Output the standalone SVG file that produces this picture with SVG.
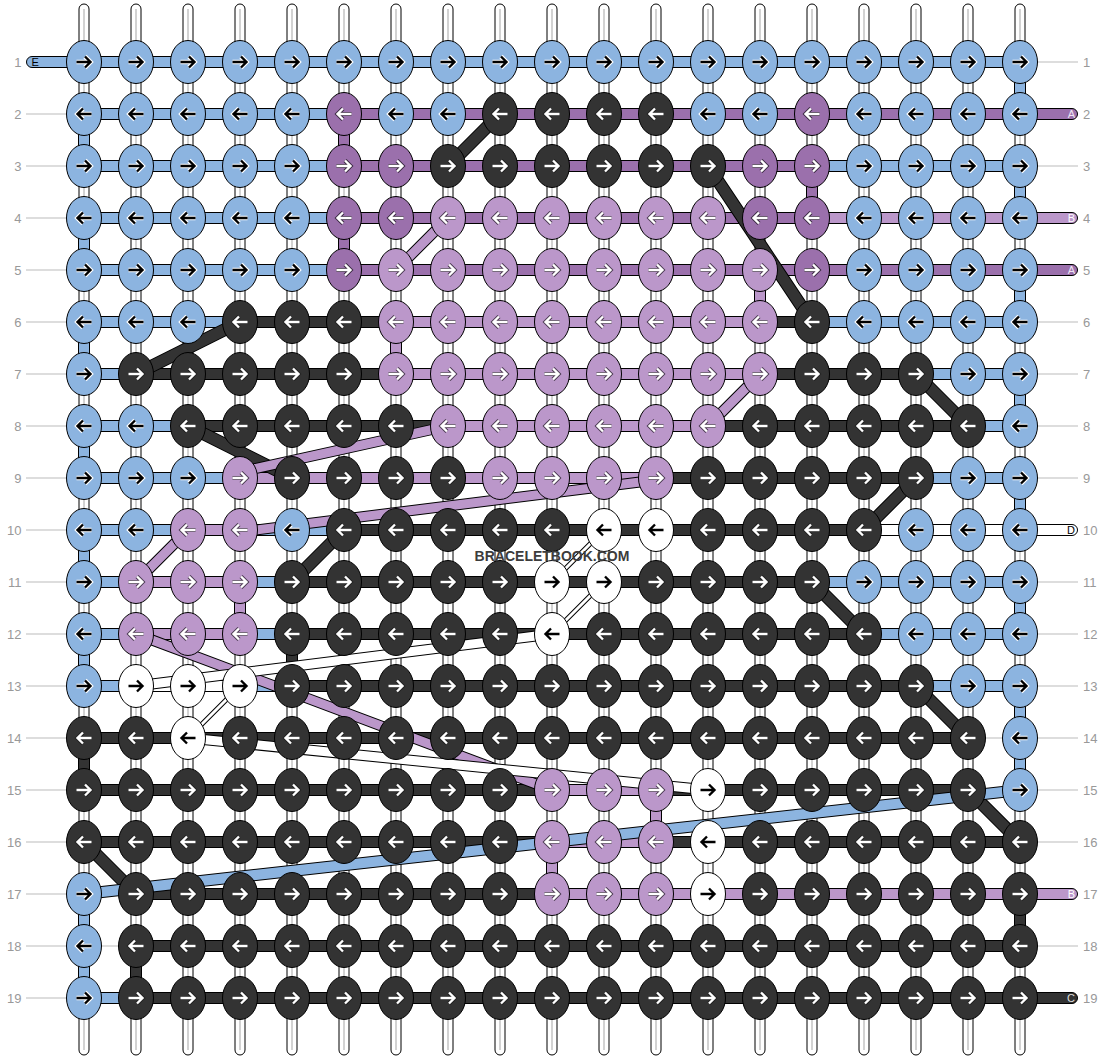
<svg xmlns="http://www.w3.org/2000/svg" xmlns:xlink="http://www.w3.org/1999/xlink" width="1104" height="1060" viewBox="0 0 1104 1060">
<style>
.t{font-family:"Liberation Sans",Arial,sans-serif;font-size:13px;fill:#999}
.lt{font-family:"Liberation Sans",Arial,sans-serif;font-size:11px}
.ln{stroke:#bbb;stroke-width:1}
.s{stroke:#000;stroke-width:1}
.B{fill:#8CB4E0}.A{fill:#9B70AC}.L{fill:#BB97CA}.K{fill:#333}.W{fill:#fff}
.ws{fill:#fff;stroke:#000;stroke-width:1}
.wc{stroke:#c4c4c4;stroke-width:1.5}
.ok{stroke:#000;stroke-width:13}.ik{stroke:#333;stroke-width:11}
.oL{stroke:#000;stroke-width:11}.iL{stroke:#BB97CA;stroke-width:9}
.oB{stroke:#000;stroke-width:12}.iB{stroke:#8CB4E0;stroke-width:10}
.oW{stroke:#000;stroke-width:11}.iW{stroke:#fff;stroke-width:9}
.ow{stroke:#000;stroke-width:5}.iw{stroke:#fff;stroke-width:3}
</style>
<defs>
<path id="pr" d="M-7.5,0H5.5M1,-5.5L6.5,0L1,5.5" fill="none"/>
<path id="pl" d="M7.5,0H-5.5M-1,-5.5L-6.5,0L-1,5.5" fill="none"/>
<g id="Br"><ellipse rx="17.5" ry="21.5" class="B s"/><use href="#pr" stroke="#fff" stroke-width="4.6"/><use href="#pr" stroke="#000" stroke-width="2.4"/></g>
<g id="Bl"><ellipse rx="17.5" ry="21.5" class="B s"/><use href="#pl" stroke="#fff" stroke-width="4.6"/><use href="#pl" stroke="#000" stroke-width="2.4"/></g>
<g id="Wr"><ellipse rx="17.5" ry="21.5" class="W s"/><use href="#pr" stroke="#fff" stroke-width="4.6"/><use href="#pr" stroke="#000" stroke-width="2.4"/></g>
<g id="Wl"><ellipse rx="17.5" ry="21.5" class="W s"/><use href="#pl" stroke="#fff" stroke-width="4.6"/><use href="#pl" stroke="#000" stroke-width="2.4"/></g>
<g id="Kr"><ellipse rx="17.5" ry="21.5" class="K s"/><use href="#pr" stroke="#222" stroke-width="4.2"/><use href="#pr" stroke="#fff" stroke-width="2.4"/></g>
<g id="Kl"><ellipse rx="17.5" ry="21.5" class="K s"/><use href="#pl" stroke="#222" stroke-width="4.2"/><use href="#pl" stroke="#fff" stroke-width="2.4"/></g>
<g id="Ar"><ellipse rx="17.5" ry="21.5" class="A s"/><use href="#pr" stroke="#3a2a40" stroke-width="4.2"/><use href="#pr" stroke="#fff" stroke-width="2.4"/></g>
<g id="Al"><ellipse rx="17.5" ry="21.5" class="A s"/><use href="#pl" stroke="#3a2a40" stroke-width="4.2"/><use href="#pl" stroke="#fff" stroke-width="2.4"/></g>
<g id="Lr"><ellipse rx="17.5" ry="21.5" class="L s"/><use href="#pr" stroke="#4a3a50" stroke-width="4.2"/><use href="#pr" stroke="#fff" stroke-width="2.4"/></g>
<g id="Ll"><ellipse rx="17.5" ry="21.5" class="L s"/><use href="#pl" stroke="#4a3a50" stroke-width="4.2"/><use href="#pl" stroke="#fff" stroke-width="2.4"/></g>
</defs>
<rect width="1104" height="1060" fill="#fff"/>
<g id="connectors">
<g id="base-strings">
<rect class="ws" x="79" y="4" width="10" height="1051" rx="5"/><rect class="ws" x="131" y="4" width="10" height="1051" rx="5"/><rect class="ws" x="183" y="4" width="10" height="1051" rx="5"/><rect class="ws" x="235" y="4" width="10" height="1051" rx="5"/><rect class="ws" x="287" y="4" width="10" height="1051" rx="5"/><rect class="ws" x="339" y="4" width="10" height="1051" rx="5"/><rect class="ws" x="391" y="4" width="10" height="1051" rx="5"/><rect class="ws" x="443" y="4" width="10" height="1051" rx="5"/><rect class="ws" x="495" y="4" width="10" height="1051" rx="5"/><rect class="ws" x="547" y="4" width="10" height="1051" rx="5"/><rect class="ws" x="599" y="4" width="10" height="1051" rx="5"/><rect class="ws" x="651" y="4" width="10" height="1051" rx="5"/><rect class="ws" x="703" y="4" width="10" height="1051" rx="5"/><rect class="ws" x="755" y="4" width="10" height="1051" rx="5"/><rect class="ws" x="807" y="4" width="10" height="1051" rx="5"/><rect class="ws" x="859" y="4" width="10" height="1051" rx="5"/><rect class="ws" x="911" y="4" width="10" height="1051" rx="5"/><rect class="ws" x="963" y="4" width="10" height="1051" rx="5"/><rect class="ws" x="1015" y="4" width="10" height="1051" rx="5"/>
<path class="wc" d="M84,9V1050M136,9V1050M188,9V1050M240,9V1050M292,9V1050M344,9V1050M396,9V1050M448,9V1050M500,9V1050M552,9V1050M604,9V1050M656,9V1050M708,9V1050M760,9V1050M812,9V1050M864,9V1050M916,9V1050M968,9V1050M1020,9V1050"/>
</g>
<g id="label-lines" class="ln">
<path d="M26,114H70M26,166H70M26,218H70M26,270H70M26,322H70M26,374H70M26,426H70M26,478H70M26,530H70M26,582H70M26,634H70M26,686H70M26,738H70M26,790H70M26,842H70M26,894H70M26,946H70M26,998H70"/>
<path d="M1030,62H1078M1030,166H1078M1030,322H1078M1030,374H1078M1030,426H1078M1030,478H1078M1030,582H1078M1030,634H1078M1030,686H1078M1030,738H1078M1030,790H1078M1030,842H1078M1030,946H1078"/>
<path d="M968,738H1020M84,946H136"/>
</g>
<g id="verticals" class="s">
<rect class="B" x="78.5" y="114" width="11" height="52"/><rect class="B" x="78.5" y="218" width="11" height="52"/><rect class="B" x="78.5" y="322" width="11" height="52"/><rect class="B" x="78.5" y="426" width="11" height="52"/><rect class="B" x="78.5" y="530" width="11" height="52"/><rect class="B" x="78.5" y="634" width="11" height="52"/><rect class="B" x="78.5" y="894" width="11" height="52"/><rect class="B" x="78.5" y="946" width="11" height="52"/>
<rect class="B" x="1014.5" y="62" width="11" height="52"/><rect class="B" x="1014.5" y="166" width="11" height="52"/><rect class="B" x="1014.5" y="270" width="11" height="52"/><rect class="B" x="1014.5" y="374" width="11" height="52"/><rect class="B" x="1014.5" y="478" width="11" height="52"/><rect class="B" x="1014.5" y="582" width="11" height="52"/><rect class="B" x="1014.5" y="686" width="11" height="52"/><rect class="B" x="1014.5" y="738" width="11" height="52"/>
<rect class="K" x="78.5" y="738" width="11" height="52"/><rect class="K" x="1014.5" y="894" width="11" height="52"/><rect class="K" x="286.5" y="634" width="11" height="52"/><rect class="K" x="130.5" y="946" width="11" height="52"/>
<rect class="A" x="338.5" y="114" width="11" height="52"/><rect class="A" x="338.5" y="218" width="11" height="52"/><rect class="A" x="806.5" y="166" width="11" height="52"/>
<rect class="L" x="754.5" y="270" width="11" height="52"/><rect class="L" x="390.5" y="322" width="11" height="52"/><rect class="L" x="234.5" y="582" width="11" height="52"/><rect class="L" x="650.5" y="790" width="11" height="52"/><rect class="L" x="546.5" y="842" width="11" height="52"/>
</g>
<g id="rows" class="s">
<rect class="B" x="26.5" y="56.5" width="993.5" height="11" rx="5.5"/>
<rect class="B" x="84" y="108.5" width="260" height="11"/><rect class="A" x="344" y="108.5" width="733.5" height="11" rx="5.5"/>
<rect class="B" x="84" y="160.5" width="260" height="11"/><rect class="A" x="344" y="160.5" width="468" height="11"/><rect class="B" x="812" y="160.5" width="208" height="11"/>
<rect class="B" x="84" y="212.5" width="260" height="11"/><rect class="A" x="344" y="212.5" width="468" height="11"/><rect class="L" x="812" y="212.5" width="265.5" height="11" rx="5.5"/>
<rect class="B" x="84" y="264.5" width="260" height="11"/><rect class="A" x="344" y="264.5" width="733.5" height="11" rx="5.5"/>
<rect class="B" x="84" y="316.5" width="156" height="11"/><rect class="K" x="240" y="316.5" width="156" height="11"/><rect class="L" x="396" y="316.5" width="364" height="11"/><rect class="K" x="760" y="316.5" width="52" height="11"/><rect class="B" x="812" y="316.5" width="208" height="11"/>
<rect class="B" x="84" y="368.5" width="52" height="11"/><rect class="K" x="136" y="368.5" width="260" height="11"/><rect class="L" x="396" y="368.5" width="364" height="11"/><rect class="K" x="760" y="368.5" width="156" height="11"/><rect class="B" x="916" y="368.5" width="104" height="11"/>
<rect class="B" x="84" y="420.5" width="104" height="11"/><rect class="K" x="188" y="420.5" width="260" height="11"/><rect class="L" x="448" y="420.5" width="260" height="11"/><rect class="K" x="708" y="420.5" width="260" height="11"/><rect class="B" x="968" y="420.5" width="52" height="11"/>
<rect class="B" x="84" y="472.5" width="156" height="11"/><rect class="L" x="240" y="472.5" width="416" height="11"/><rect class="K" x="656" y="472.5" width="260" height="11"/><rect class="B" x="916" y="472.5" width="104" height="11"/>
<rect class="B" x="84" y="524.5" width="104" height="11"/><rect class="L" x="188" y="524.5" width="52" height="11"/><rect class="B" x="240" y="524.5" width="104" height="11"/><rect class="K" x="344" y="524.5" width="520" height="11"/><rect class="W" x="864" y="524.5" width="213.5" height="11" rx="5.5"/>
<rect class="B" x="84" y="576.5" width="52" height="11"/><rect class="L" x="136" y="576.5" width="104" height="11"/><rect class="B" x="240" y="576.5" width="52" height="11"/><rect class="K" x="292" y="576.5" width="520" height="11"/><rect class="B" x="812" y="576.5" width="208" height="11"/>
<rect class="B" x="84" y="628.5" width="52" height="11"/><rect class="L" x="136" y="628.5" width="104" height="11"/><rect class="B" x="240" y="628.5" width="52" height="11"/><rect class="K" x="292" y="628.5" width="572" height="11"/><rect class="B" x="864" y="628.5" width="156" height="11"/>
<rect class="B" x="84" y="680.5" width="52" height="11"/><rect class="W" x="136" y="680.5" width="104" height="11"/><rect class="B" x="240" y="680.5" width="52" height="11"/><rect class="K" x="292" y="680.5" width="624" height="11"/><rect class="B" x="916" y="680.5" width="104" height="11"/>
<rect class="K" x="84" y="732.5" width="884" height="11"/>
<rect class="K" x="84" y="784.5" width="468" height="11"/><rect class="L" x="552" y="784.5" width="104" height="11"/><rect class="K" x="656" y="784.5" width="312" height="11"/>
<rect class="K" x="84" y="836.5" width="468" height="11"/><rect class="L" x="552" y="836.5" width="104" height="11"/><rect class="K" x="656" y="836.5" width="364" height="11"/>
<rect class="K" x="136" y="888.5" width="416" height="11"/><rect class="L" x="552" y="888.5" width="525.5" height="11" rx="5.5"/>
<rect class="K" x="136" y="940.5" width="884" height="11"/>
<rect class="B" x="84" y="992.5" width="52" height="11"/><rect class="K" x="136" y="992.5" width="941.5" height="11" rx="5.5"/>
</g>
<g id="diagonals">
<path class="ok" d="M448,166L500,114M708,166L812,322M136,374L240,322M916,374L968,426M188,426L292,478M292,582L344,530M864,530L916,478M812,582L864,634M916,686L968,738M968,790L1020,842M84,842L136,894"/>
<path class="ik" d="M448,166L500,114M708,166L812,322M136,374L240,322M916,374L968,426M188,426L292,478M292,582L344,530M864,530L916,478M812,582L864,634M916,686L968,738M968,790L1020,842M84,842L136,894"/>
<path class="oL" d="M396,270L448,218M760,374L708,426M240,472L448,426M240,532L656,480M136,582L188,530M136,634L552,790"/>
<path class="iL" d="M396,270L448,218M760,374L708,426M240,472L448,426M240,532L656,480M136,582L188,530M136,634L552,790"/>
<path class="oB" d="M84,894L1020,790"/>
<path class="iB" d="M84,894L1020,790"/>
<path class="oW" d="M188,738L708,790M136,686L552,634"/>
<path class="iW" d="M188,738L708,790M136,686L552,634"/>
<path class="ow" d="M188,738L240,686M552,582L604,530M552,634L604,582"/>
<path class="iw" d="M188,738L240,686M552,582L604,530M552,634L604,582"/>
</g>
</g>
<g id="knots">
<g id="n1-1" transform="translate(84 62)"><use href="#Br"/></g><g id="n1-2" transform="translate(136 62)"><use href="#Br"/></g><g id="n1-3" transform="translate(188 62)"><use href="#Br"/></g><g id="n1-4" transform="translate(240 62)"><use href="#Br"/></g><g id="n1-5" transform="translate(292 62)"><use href="#Br"/></g><g id="n1-6" transform="translate(344 62)"><use href="#Br"/></g><g id="n1-7" transform="translate(396 62)"><use href="#Br"/></g><g id="n1-8" transform="translate(448 62)"><use href="#Br"/></g><g id="n1-9" transform="translate(500 62)"><use href="#Br"/></g><g id="n1-10" transform="translate(552 62)"><use href="#Br"/></g><g id="n1-11" transform="translate(604 62)"><use href="#Br"/></g><g id="n1-12" transform="translate(656 62)"><use href="#Br"/></g><g id="n1-13" transform="translate(708 62)"><use href="#Br"/></g><g id="n1-14" transform="translate(760 62)"><use href="#Br"/></g><g id="n1-15" transform="translate(812 62)"><use href="#Br"/></g><g id="n1-16" transform="translate(864 62)"><use href="#Br"/></g><g id="n1-17" transform="translate(916 62)"><use href="#Br"/></g><g id="n1-18" transform="translate(968 62)"><use href="#Br"/></g><g id="n1-19" transform="translate(1020 62)"><use href="#Br"/></g>
<g id="n2-1" transform="translate(84 114)"><use href="#Bl"/></g><g id="n2-2" transform="translate(136 114)"><use href="#Bl"/></g><g id="n2-3" transform="translate(188 114)"><use href="#Bl"/></g><g id="n2-4" transform="translate(240 114)"><use href="#Bl"/></g><g id="n2-5" transform="translate(292 114)"><use href="#Bl"/></g><g id="n2-6" transform="translate(344 114)"><use href="#Al"/></g><g id="n2-7" transform="translate(396 114)"><use href="#Bl"/></g><g id="n2-8" transform="translate(448 114)"><use href="#Bl"/></g><g id="n2-9" transform="translate(500 114)"><use href="#Kl"/></g><g id="n2-10" transform="translate(552 114)"><use href="#Kl"/></g><g id="n2-11" transform="translate(604 114)"><use href="#Kl"/></g><g id="n2-12" transform="translate(656 114)"><use href="#Kl"/></g><g id="n2-13" transform="translate(708 114)"><use href="#Bl"/></g><g id="n2-14" transform="translate(760 114)"><use href="#Bl"/></g><g id="n2-15" transform="translate(812 114)"><use href="#Al"/></g><g id="n2-16" transform="translate(864 114)"><use href="#Bl"/></g><g id="n2-17" transform="translate(916 114)"><use href="#Bl"/></g><g id="n2-18" transform="translate(968 114)"><use href="#Bl"/></g><g id="n2-19" transform="translate(1020 114)"><use href="#Bl"/></g>
<g id="n3-1" transform="translate(84 166)"><use href="#Br"/></g><g id="n3-2" transform="translate(136 166)"><use href="#Br"/></g><g id="n3-3" transform="translate(188 166)"><use href="#Br"/></g><g id="n3-4" transform="translate(240 166)"><use href="#Br"/></g><g id="n3-5" transform="translate(292 166)"><use href="#Br"/></g><g id="n3-6" transform="translate(344 166)"><use href="#Ar"/></g><g id="n3-7" transform="translate(396 166)"><use href="#Ar"/></g><g id="n3-8" transform="translate(448 166)"><use href="#Kr"/></g><g id="n3-9" transform="translate(500 166)"><use href="#Kr"/></g><g id="n3-10" transform="translate(552 166)"><use href="#Kr"/></g><g id="n3-11" transform="translate(604 166)"><use href="#Kr"/></g><g id="n3-12" transform="translate(656 166)"><use href="#Kr"/></g><g id="n3-13" transform="translate(708 166)"><use href="#Kr"/></g><g id="n3-14" transform="translate(760 166)"><use href="#Ar"/></g><g id="n3-15" transform="translate(812 166)"><use href="#Ar"/></g><g id="n3-16" transform="translate(864 166)"><use href="#Br"/></g><g id="n3-17" transform="translate(916 166)"><use href="#Br"/></g><g id="n3-18" transform="translate(968 166)"><use href="#Br"/></g><g id="n3-19" transform="translate(1020 166)"><use href="#Br"/></g>
<g id="n4-1" transform="translate(84 218)"><use href="#Bl"/></g><g id="n4-2" transform="translate(136 218)"><use href="#Bl"/></g><g id="n4-3" transform="translate(188 218)"><use href="#Bl"/></g><g id="n4-4" transform="translate(240 218)"><use href="#Bl"/></g><g id="n4-5" transform="translate(292 218)"><use href="#Bl"/></g><g id="n4-6" transform="translate(344 218)"><use href="#Al"/></g><g id="n4-7" transform="translate(396 218)"><use href="#Al"/></g><g id="n4-8" transform="translate(448 218)"><use href="#Ll"/></g><g id="n4-9" transform="translate(500 218)"><use href="#Ll"/></g><g id="n4-10" transform="translate(552 218)"><use href="#Ll"/></g><g id="n4-11" transform="translate(604 218)"><use href="#Ll"/></g><g id="n4-12" transform="translate(656 218)"><use href="#Ll"/></g><g id="n4-13" transform="translate(708 218)"><use href="#Ll"/></g><g id="n4-14" transform="translate(760 218)"><use href="#Al"/></g><g id="n4-15" transform="translate(812 218)"><use href="#Al"/></g><g id="n4-16" transform="translate(864 218)"><use href="#Bl"/></g><g id="n4-17" transform="translate(916 218)"><use href="#Bl"/></g><g id="n4-18" transform="translate(968 218)"><use href="#Bl"/></g><g id="n4-19" transform="translate(1020 218)"><use href="#Bl"/></g>
<g id="n5-1" transform="translate(84 270)"><use href="#Br"/></g><g id="n5-2" transform="translate(136 270)"><use href="#Br"/></g><g id="n5-3" transform="translate(188 270)"><use href="#Br"/></g><g id="n5-4" transform="translate(240 270)"><use href="#Br"/></g><g id="n5-5" transform="translate(292 270)"><use href="#Br"/></g><g id="n5-6" transform="translate(344 270)"><use href="#Ar"/></g><g id="n5-7" transform="translate(396 270)"><use href="#Lr"/></g><g id="n5-8" transform="translate(448 270)"><use href="#Lr"/></g><g id="n5-9" transform="translate(500 270)"><use href="#Lr"/></g><g id="n5-10" transform="translate(552 270)"><use href="#Lr"/></g><g id="n5-11" transform="translate(604 270)"><use href="#Lr"/></g><g id="n5-12" transform="translate(656 270)"><use href="#Lr"/></g><g id="n5-13" transform="translate(708 270)"><use href="#Lr"/></g><g id="n5-14" transform="translate(760 270)"><use href="#Lr"/></g><g id="n5-15" transform="translate(812 270)"><use href="#Ar"/></g><g id="n5-16" transform="translate(864 270)"><use href="#Br"/></g><g id="n5-17" transform="translate(916 270)"><use href="#Br"/></g><g id="n5-18" transform="translate(968 270)"><use href="#Br"/></g><g id="n5-19" transform="translate(1020 270)"><use href="#Br"/></g>
<g id="n6-1" transform="translate(84 322)"><use href="#Bl"/></g><g id="n6-2" transform="translate(136 322)"><use href="#Bl"/></g><g id="n6-3" transform="translate(188 322)"><use href="#Bl"/></g><g id="n6-4" transform="translate(240 322)"><use href="#Kl"/></g><g id="n6-5" transform="translate(292 322)"><use href="#Kl"/></g><g id="n6-6" transform="translate(344 322)"><use href="#Kl"/></g><g id="n6-7" transform="translate(396 322)"><use href="#Ll"/></g><g id="n6-8" transform="translate(448 322)"><use href="#Ll"/></g><g id="n6-9" transform="translate(500 322)"><use href="#Ll"/></g><g id="n6-10" transform="translate(552 322)"><use href="#Ll"/></g><g id="n6-11" transform="translate(604 322)"><use href="#Ll"/></g><g id="n6-12" transform="translate(656 322)"><use href="#Ll"/></g><g id="n6-13" transform="translate(708 322)"><use href="#Ll"/></g><g id="n6-14" transform="translate(760 322)"><use href="#Ll"/></g><g id="n6-15" transform="translate(812 322)"><use href="#Kl"/></g><g id="n6-16" transform="translate(864 322)"><use href="#Bl"/></g><g id="n6-17" transform="translate(916 322)"><use href="#Bl"/></g><g id="n6-18" transform="translate(968 322)"><use href="#Bl"/></g><g id="n6-19" transform="translate(1020 322)"><use href="#Bl"/></g>
<g id="n7-1" transform="translate(84 374)"><use href="#Br"/></g><g id="n7-2" transform="translate(136 374)"><use href="#Kr"/></g><g id="n7-3" transform="translate(188 374)"><use href="#Kr"/></g><g id="n7-4" transform="translate(240 374)"><use href="#Kr"/></g><g id="n7-5" transform="translate(292 374)"><use href="#Kr"/></g><g id="n7-6" transform="translate(344 374)"><use href="#Kr"/></g><g id="n7-7" transform="translate(396 374)"><use href="#Lr"/></g><g id="n7-8" transform="translate(448 374)"><use href="#Lr"/></g><g id="n7-9" transform="translate(500 374)"><use href="#Lr"/></g><g id="n7-10" transform="translate(552 374)"><use href="#Lr"/></g><g id="n7-11" transform="translate(604 374)"><use href="#Lr"/></g><g id="n7-12" transform="translate(656 374)"><use href="#Lr"/></g><g id="n7-13" transform="translate(708 374)"><use href="#Lr"/></g><g id="n7-14" transform="translate(760 374)"><use href="#Lr"/></g><g id="n7-15" transform="translate(812 374)"><use href="#Kr"/></g><g id="n7-16" transform="translate(864 374)"><use href="#Kr"/></g><g id="n7-17" transform="translate(916 374)"><use href="#Kr"/></g><g id="n7-18" transform="translate(968 374)"><use href="#Br"/></g><g id="n7-19" transform="translate(1020 374)"><use href="#Br"/></g>
<g id="n8-1" transform="translate(84 426)"><use href="#Bl"/></g><g id="n8-2" transform="translate(136 426)"><use href="#Bl"/></g><g id="n8-3" transform="translate(188 426)"><use href="#Kl"/></g><g id="n8-4" transform="translate(240 426)"><use href="#Kl"/></g><g id="n8-5" transform="translate(292 426)"><use href="#Kl"/></g><g id="n8-6" transform="translate(344 426)"><use href="#Kl"/></g><g id="n8-7" transform="translate(396 426)"><use href="#Kl"/></g><g id="n8-8" transform="translate(448 426)"><use href="#Ll"/></g><g id="n8-9" transform="translate(500 426)"><use href="#Ll"/></g><g id="n8-10" transform="translate(552 426)"><use href="#Ll"/></g><g id="n8-11" transform="translate(604 426)"><use href="#Ll"/></g><g id="n8-12" transform="translate(656 426)"><use href="#Ll"/></g><g id="n8-13" transform="translate(708 426)"><use href="#Ll"/></g><g id="n8-14" transform="translate(760 426)"><use href="#Kl"/></g><g id="n8-15" transform="translate(812 426)"><use href="#Kl"/></g><g id="n8-16" transform="translate(864 426)"><use href="#Kl"/></g><g id="n8-17" transform="translate(916 426)"><use href="#Kl"/></g><g id="n8-18" transform="translate(968 426)"><use href="#Kl"/></g><g id="n8-19" transform="translate(1020 426)"><use href="#Bl"/></g>
<g id="n9-1" transform="translate(84 478)"><use href="#Br"/></g><g id="n9-2" transform="translate(136 478)"><use href="#Br"/></g><g id="n9-3" transform="translate(188 478)"><use href="#Br"/></g><g id="n9-4" transform="translate(240 478)"><use href="#Lr"/></g><g id="n9-5" transform="translate(292 478)"><use href="#Kr"/></g><g id="n9-6" transform="translate(344 478)"><use href="#Kr"/></g><g id="n9-7" transform="translate(396 478)"><use href="#Kr"/></g><g id="n9-8" transform="translate(448 478)"><use href="#Kr"/></g><g id="n9-9" transform="translate(500 478)"><use href="#Lr"/></g><g id="n9-10" transform="translate(552 478)"><use href="#Lr"/></g><g id="n9-11" transform="translate(604 478)"><use href="#Lr"/></g><g id="n9-12" transform="translate(656 478)"><use href="#Lr"/></g><g id="n9-13" transform="translate(708 478)"><use href="#Kr"/></g><g id="n9-14" transform="translate(760 478)"><use href="#Kr"/></g><g id="n9-15" transform="translate(812 478)"><use href="#Kr"/></g><g id="n9-16" transform="translate(864 478)"><use href="#Kr"/></g><g id="n9-17" transform="translate(916 478)"><use href="#Kr"/></g><g id="n9-18" transform="translate(968 478)"><use href="#Br"/></g><g id="n9-19" transform="translate(1020 478)"><use href="#Br"/></g>
<g id="n10-1" transform="translate(84 530)"><use href="#Bl"/></g><g id="n10-2" transform="translate(136 530)"><use href="#Bl"/></g><g id="n10-3" transform="translate(188 530)"><use href="#Ll"/></g><g id="n10-4" transform="translate(240 530)"><use href="#Ll"/></g><g id="n10-5" transform="translate(292 530)"><use href="#Bl"/></g><g id="n10-6" transform="translate(344 530)"><use href="#Kl"/></g><g id="n10-7" transform="translate(396 530)"><use href="#Kl"/></g><g id="n10-8" transform="translate(448 530)"><use href="#Kl"/></g><g id="n10-9" transform="translate(500 530)"><use href="#Kl"/></g><g id="n10-10" transform="translate(552 530)"><use href="#Kl"/></g><g id="n10-11" transform="translate(604 530)"><use href="#Wl"/></g><g id="n10-12" transform="translate(656 530)"><use href="#Wl"/></g><g id="n10-13" transform="translate(708 530)"><use href="#Kl"/></g><g id="n10-14" transform="translate(760 530)"><use href="#Kl"/></g><g id="n10-15" transform="translate(812 530)"><use href="#Kl"/></g><g id="n10-16" transform="translate(864 530)"><use href="#Kl"/></g><g id="n10-17" transform="translate(916 530)"><use href="#Bl"/></g><g id="n10-18" transform="translate(968 530)"><use href="#Bl"/></g><g id="n10-19" transform="translate(1020 530)"><use href="#Bl"/></g>
<g id="n11-1" transform="translate(84 582)"><use href="#Br"/></g><g id="n11-2" transform="translate(136 582)"><use href="#Lr"/></g><g id="n11-3" transform="translate(188 582)"><use href="#Lr"/></g><g id="n11-4" transform="translate(240 582)"><use href="#Lr"/></g><g id="n11-5" transform="translate(292 582)"><use href="#Kr"/></g><g id="n11-6" transform="translate(344 582)"><use href="#Kr"/></g><g id="n11-7" transform="translate(396 582)"><use href="#Kr"/></g><g id="n11-8" transform="translate(448 582)"><use href="#Kr"/></g><g id="n11-9" transform="translate(500 582)"><use href="#Kr"/></g><g id="n11-10" transform="translate(552 582)"><use href="#Wr"/></g><g id="n11-11" transform="translate(604 582)"><use href="#Wr"/></g><g id="n11-12" transform="translate(656 582)"><use href="#Kr"/></g><g id="n11-13" transform="translate(708 582)"><use href="#Kr"/></g><g id="n11-14" transform="translate(760 582)"><use href="#Kr"/></g><g id="n11-15" transform="translate(812 582)"><use href="#Kr"/></g><g id="n11-16" transform="translate(864 582)"><use href="#Br"/></g><g id="n11-17" transform="translate(916 582)"><use href="#Br"/></g><g id="n11-18" transform="translate(968 582)"><use href="#Br"/></g><g id="n11-19" transform="translate(1020 582)"><use href="#Br"/></g>
<g id="n12-1" transform="translate(84 634)"><use href="#Bl"/></g><g id="n12-2" transform="translate(136 634)"><use href="#Ll"/></g><g id="n12-3" transform="translate(188 634)"><use href="#Ll"/></g><g id="n12-4" transform="translate(240 634)"><use href="#Ll"/></g><g id="n12-5" transform="translate(292 634)"><use href="#Kl"/></g><g id="n12-6" transform="translate(344 634)"><use href="#Kl"/></g><g id="n12-7" transform="translate(396 634)"><use href="#Kl"/></g><g id="n12-8" transform="translate(448 634)"><use href="#Kl"/></g><g id="n12-9" transform="translate(500 634)"><use href="#Kl"/></g><g id="n12-10" transform="translate(552 634)"><use href="#Wl"/></g><g id="n12-11" transform="translate(604 634)"><use href="#Kl"/></g><g id="n12-12" transform="translate(656 634)"><use href="#Kl"/></g><g id="n12-13" transform="translate(708 634)"><use href="#Kl"/></g><g id="n12-14" transform="translate(760 634)"><use href="#Kl"/></g><g id="n12-15" transform="translate(812 634)"><use href="#Kl"/></g><g id="n12-16" transform="translate(864 634)"><use href="#Kl"/></g><g id="n12-17" transform="translate(916 634)"><use href="#Bl"/></g><g id="n12-18" transform="translate(968 634)"><use href="#Bl"/></g><g id="n12-19" transform="translate(1020 634)"><use href="#Bl"/></g>
<g id="n13-1" transform="translate(84 686)"><use href="#Br"/></g><g id="n13-2" transform="translate(136 686)"><use href="#Wr"/></g><g id="n13-3" transform="translate(188 686)"><use href="#Wr"/></g><g id="n13-4" transform="translate(240 686)"><use href="#Wr"/></g><g id="n13-5" transform="translate(292 686)"><use href="#Kr"/></g><g id="n13-6" transform="translate(344 686)"><use href="#Kr"/></g><g id="n13-7" transform="translate(396 686)"><use href="#Kr"/></g><g id="n13-8" transform="translate(448 686)"><use href="#Kr"/></g><g id="n13-9" transform="translate(500 686)"><use href="#Kr"/></g><g id="n13-10" transform="translate(552 686)"><use href="#Kr"/></g><g id="n13-11" transform="translate(604 686)"><use href="#Kr"/></g><g id="n13-12" transform="translate(656 686)"><use href="#Kr"/></g><g id="n13-13" transform="translate(708 686)"><use href="#Kr"/></g><g id="n13-14" transform="translate(760 686)"><use href="#Kr"/></g><g id="n13-15" transform="translate(812 686)"><use href="#Kr"/></g><g id="n13-16" transform="translate(864 686)"><use href="#Kr"/></g><g id="n13-17" transform="translate(916 686)"><use href="#Kr"/></g><g id="n13-18" transform="translate(968 686)"><use href="#Br"/></g><g id="n13-19" transform="translate(1020 686)"><use href="#Br"/></g>
<g id="n14-1" transform="translate(84 738)"><use href="#Kl"/></g><g id="n14-2" transform="translate(136 738)"><use href="#Kl"/></g><g id="n14-3" transform="translate(188 738)"><use href="#Wl"/></g><g id="n14-4" transform="translate(240 738)"><use href="#Kl"/></g><g id="n14-5" transform="translate(292 738)"><use href="#Kl"/></g><g id="n14-6" transform="translate(344 738)"><use href="#Kl"/></g><g id="n14-7" transform="translate(396 738)"><use href="#Kl"/></g><g id="n14-8" transform="translate(448 738)"><use href="#Kl"/></g><g id="n14-9" transform="translate(500 738)"><use href="#Kl"/></g><g id="n14-10" transform="translate(552 738)"><use href="#Kl"/></g><g id="n14-11" transform="translate(604 738)"><use href="#Kl"/></g><g id="n14-12" transform="translate(656 738)"><use href="#Kl"/></g><g id="n14-13" transform="translate(708 738)"><use href="#Kl"/></g><g id="n14-14" transform="translate(760 738)"><use href="#Kl"/></g><g id="n14-15" transform="translate(812 738)"><use href="#Kl"/></g><g id="n14-16" transform="translate(864 738)"><use href="#Kl"/></g><g id="n14-17" transform="translate(916 738)"><use href="#Kl"/></g><g id="n14-18" transform="translate(968 738)"><use href="#Kl"/></g><g id="n14-19" transform="translate(1020 738)"><use href="#Bl"/></g>
<g id="n15-1" transform="translate(84 790)"><use href="#Kr"/></g><g id="n15-2" transform="translate(136 790)"><use href="#Kr"/></g><g id="n15-3" transform="translate(188 790)"><use href="#Kr"/></g><g id="n15-4" transform="translate(240 790)"><use href="#Kr"/></g><g id="n15-5" transform="translate(292 790)"><use href="#Kr"/></g><g id="n15-6" transform="translate(344 790)"><use href="#Kr"/></g><g id="n15-7" transform="translate(396 790)"><use href="#Kr"/></g><g id="n15-8" transform="translate(448 790)"><use href="#Kr"/></g><g id="n15-9" transform="translate(500 790)"><use href="#Kr"/></g><g id="n15-10" transform="translate(552 790)"><use href="#Lr"/></g><g id="n15-11" transform="translate(604 790)"><use href="#Lr"/></g><g id="n15-12" transform="translate(656 790)"><use href="#Lr"/></g><g id="n15-13" transform="translate(708 790)"><use href="#Wr"/></g><g id="n15-14" transform="translate(760 790)"><use href="#Kr"/></g><g id="n15-15" transform="translate(812 790)"><use href="#Kr"/></g><g id="n15-16" transform="translate(864 790)"><use href="#Kr"/></g><g id="n15-17" transform="translate(916 790)"><use href="#Kr"/></g><g id="n15-18" transform="translate(968 790)"><use href="#Kr"/></g><g id="n15-19" transform="translate(1020 790)"><use href="#Br"/></g>
<g id="n16-1" transform="translate(84 842)"><use href="#Kl"/></g><g id="n16-2" transform="translate(136 842)"><use href="#Kl"/></g><g id="n16-3" transform="translate(188 842)"><use href="#Kl"/></g><g id="n16-4" transform="translate(240 842)"><use href="#Kl"/></g><g id="n16-5" transform="translate(292 842)"><use href="#Kl"/></g><g id="n16-6" transform="translate(344 842)"><use href="#Kl"/></g><g id="n16-7" transform="translate(396 842)"><use href="#Kl"/></g><g id="n16-8" transform="translate(448 842)"><use href="#Kl"/></g><g id="n16-9" transform="translate(500 842)"><use href="#Kl"/></g><g id="n16-10" transform="translate(552 842)"><use href="#Ll"/></g><g id="n16-11" transform="translate(604 842)"><use href="#Ll"/></g><g id="n16-12" transform="translate(656 842)"><use href="#Ll"/></g><g id="n16-13" transform="translate(708 842)"><use href="#Wl"/></g><g id="n16-14" transform="translate(760 842)"><use href="#Kl"/></g><g id="n16-15" transform="translate(812 842)"><use href="#Kl"/></g><g id="n16-16" transform="translate(864 842)"><use href="#Kl"/></g><g id="n16-17" transform="translate(916 842)"><use href="#Kl"/></g><g id="n16-18" transform="translate(968 842)"><use href="#Kl"/></g><g id="n16-19" transform="translate(1020 842)"><use href="#Kl"/></g>
<g id="n17-1" transform="translate(84 894)"><use href="#Br"/></g><g id="n17-2" transform="translate(136 894)"><use href="#Kr"/></g><g id="n17-3" transform="translate(188 894)"><use href="#Kr"/></g><g id="n17-4" transform="translate(240 894)"><use href="#Kr"/></g><g id="n17-5" transform="translate(292 894)"><use href="#Kr"/></g><g id="n17-6" transform="translate(344 894)"><use href="#Kr"/></g><g id="n17-7" transform="translate(396 894)"><use href="#Kr"/></g><g id="n17-8" transform="translate(448 894)"><use href="#Kr"/></g><g id="n17-9" transform="translate(500 894)"><use href="#Kr"/></g><g id="n17-10" transform="translate(552 894)"><use href="#Lr"/></g><g id="n17-11" transform="translate(604 894)"><use href="#Lr"/></g><g id="n17-12" transform="translate(656 894)"><use href="#Lr"/></g><g id="n17-13" transform="translate(708 894)"><use href="#Wr"/></g><g id="n17-14" transform="translate(760 894)"><use href="#Kr"/></g><g id="n17-15" transform="translate(812 894)"><use href="#Kr"/></g><g id="n17-16" transform="translate(864 894)"><use href="#Kr"/></g><g id="n17-17" transform="translate(916 894)"><use href="#Kr"/></g><g id="n17-18" transform="translate(968 894)"><use href="#Kr"/></g><g id="n17-19" transform="translate(1020 894)"><use href="#Kr"/></g>
<g id="n18-1" transform="translate(84 946)"><use href="#Bl"/></g><g id="n18-2" transform="translate(136 946)"><use href="#Kl"/></g><g id="n18-3" transform="translate(188 946)"><use href="#Kl"/></g><g id="n18-4" transform="translate(240 946)"><use href="#Kl"/></g><g id="n18-5" transform="translate(292 946)"><use href="#Kl"/></g><g id="n18-6" transform="translate(344 946)"><use href="#Kl"/></g><g id="n18-7" transform="translate(396 946)"><use href="#Kl"/></g><g id="n18-8" transform="translate(448 946)"><use href="#Kl"/></g><g id="n18-9" transform="translate(500 946)"><use href="#Kl"/></g><g id="n18-10" transform="translate(552 946)"><use href="#Kl"/></g><g id="n18-11" transform="translate(604 946)"><use href="#Kl"/></g><g id="n18-12" transform="translate(656 946)"><use href="#Kl"/></g><g id="n18-13" transform="translate(708 946)"><use href="#Kl"/></g><g id="n18-14" transform="translate(760 946)"><use href="#Kl"/></g><g id="n18-15" transform="translate(812 946)"><use href="#Kl"/></g><g id="n18-16" transform="translate(864 946)"><use href="#Kl"/></g><g id="n18-17" transform="translate(916 946)"><use href="#Kl"/></g><g id="n18-18" transform="translate(968 946)"><use href="#Kl"/></g><g id="n18-19" transform="translate(1020 946)"><use href="#Kl"/></g>
<g id="n19-1" transform="translate(84 998)"><use href="#Br"/></g><g id="n19-2" transform="translate(136 998)"><use href="#Kr"/></g><g id="n19-3" transform="translate(188 998)"><use href="#Kr"/></g><g id="n19-4" transform="translate(240 998)"><use href="#Kr"/></g><g id="n19-5" transform="translate(292 998)"><use href="#Kr"/></g><g id="n19-6" transform="translate(344 998)"><use href="#Kr"/></g><g id="n19-7" transform="translate(396 998)"><use href="#Kr"/></g><g id="n19-8" transform="translate(448 998)"><use href="#Kr"/></g><g id="n19-9" transform="translate(500 998)"><use href="#Kr"/></g><g id="n19-10" transform="translate(552 998)"><use href="#Kr"/></g><g id="n19-11" transform="translate(604 998)"><use href="#Kr"/></g><g id="n19-12" transform="translate(656 998)"><use href="#Kr"/></g><g id="n19-13" transform="translate(708 998)"><use href="#Kr"/></g><g id="n19-14" transform="translate(760 998)"><use href="#Kr"/></g><g id="n19-15" transform="translate(812 998)"><use href="#Kr"/></g><g id="n19-16" transform="translate(864 998)"><use href="#Kr"/></g><g id="n19-17" transform="translate(916 998)"><use href="#Kr"/></g><g id="n19-18" transform="translate(968 998)"><use href="#Kr"/></g><g id="n19-19" transform="translate(1020 998)"><use href="#Kr"/></g>
</g>
<g id="labels">
<g class="t" text-anchor="end">
<text x="21.5" y="66.5">1</text><text x="21.5" y="118.5">2</text><text x="21.5" y="170.5">3</text><text x="21.5" y="222.5">4</text><text x="21.5" y="274.5">5</text><text x="21.5" y="326.5">6</text><text x="21.5" y="378.5">7</text><text x="21.5" y="430.5">8</text><text x="21.5" y="482.5">9</text><text x="21.5" y="534.5">10</text><text x="21.5" y="586.5">11</text><text x="21.5" y="638.5">12</text><text x="21.5" y="690.5">13</text><text x="21.5" y="742.5">14</text><text x="21.5" y="794.5">15</text><text x="21.5" y="846.5">16</text><text x="21.5" y="898.5">17</text><text x="21.5" y="950.5">18</text><text x="21.5" y="1002.5">19</text>
</g>
<g class="t">
<text x="1083" y="66.5">1</text><text x="1083" y="118.5">2</text><text x="1083" y="170.5">3</text><text x="1083" y="222.5">4</text><text x="1083" y="274.5">5</text><text x="1083" y="326.5">6</text><text x="1083" y="378.5">7</text><text x="1083" y="430.5">8</text><text x="1083" y="482.5">9</text><text x="1083" y="534.5">10</text><text x="1083" y="586.5">11</text><text x="1083" y="638.5">12</text><text x="1083" y="690.5">13</text><text x="1083" y="742.5">14</text><text x="1083" y="794.5">15</text><text x="1083" y="846.5">16</text><text x="1083" y="898.5">17</text><text x="1083" y="950.5">18</text><text x="1083" y="1002.5">19</text>
</g>
<text class="lt" x="31.5" y="66" fill="#000">E</text>
<g class="lt" text-anchor="end">
<text x="1075" y="118" fill="#efe4f3">A</text><text x="1075" y="222" fill="#fff">B</text><text x="1075" y="274" fill="#efe4f3">A</text><text x="1075" y="534" fill="#000">D</text><text x="1075" y="898" fill="#fff">B</text><text x="1075" y="1002" fill="#ddd">C</text>
</g>
<text x="552" y="561" text-anchor="middle" font-family="Liberation Sans, Arial, sans-serif" font-size="14" font-weight="bold" fill="#3c3c3c">BRACELETBOOK.COM</text>
</g>
</svg>
